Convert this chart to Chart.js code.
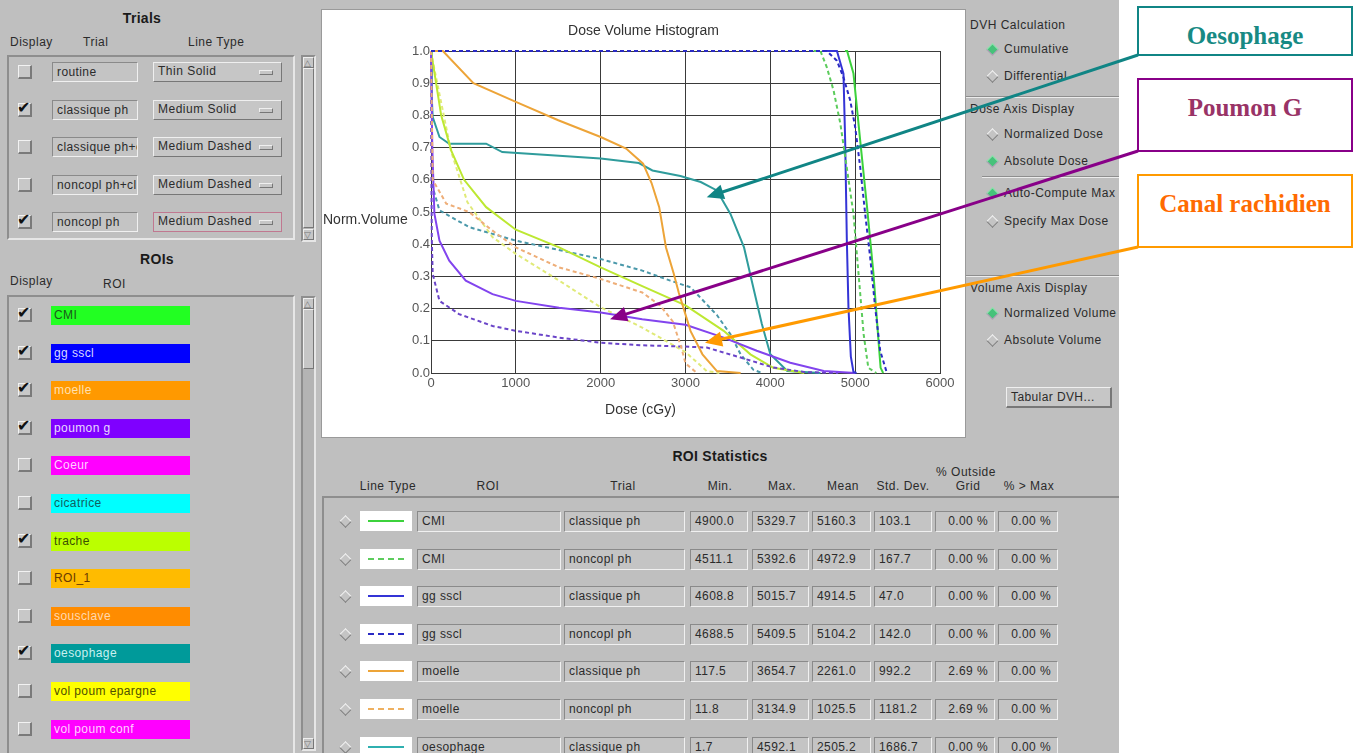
<!DOCTYPE html>
<html>
<head>
<meta charset="utf-8">
<title>Dose Volume Histogram</title>
<script src="https://cdn.jsdelivr.net/npm/chart.js@4.4.1/dist/chart.umd.min.js"></script>
<style>
  body { margin: 0; width: 1353px; height: 753px; overflow: hidden; background: #fff; font-family: "Liberation Sans", Arial, sans-serif; }
  #gui { position: absolute; left: 0; top: 0; width: 1119px; height: 753px; background: #bfbfbf; overflow: hidden; }
  .txt { position: absolute; font-size: 12px; letter-spacing: 0.5px; color: #2b2b2b; white-space: nowrap; line-height: 14px; }
  .bold { font-weight: bold; font-size: 14px; letter-spacing: 0.3px; color: #1a1a1a; }
  .sunken { position: absolute; box-sizing: border-box; border-top: 2px solid #8e8e8e; border-left: 2px solid #8e8e8e; border-right: 2px solid #e6e6e6; border-bottom: 2px solid #e6e6e6; }
  .raised { position: absolute; box-sizing: border-box; border-top: 1px solid #efefef; border-left: 1px solid #efefef; border-right: 1px solid #777; border-bottom: 1px solid #777; background: #c6c6c6; }
  .fld { position: absolute; box-sizing: border-box; border-top: 1px solid #8a8a8a; border-left: 1px solid #8a8a8a; border-right: 1px solid #f0f0f0; border-bottom: 1px solid #f0f0f0; background: #c4c4c4; font-size: 12px; letter-spacing: 0.4px; color: #2b2b2b; padding-left: 4px; line-height: 18px; overflow: hidden; white-space: nowrap; }
  .fld.right { text-align: right; padding-right: 6px; padding-left: 0; }
  .check { position: absolute; width: 14px; height: 14px; box-sizing: border-box; border-top: 1px solid #f2f2f2; border-left: 1px solid #f2f2f2; border-right: 2px solid #7a7a7a; border-bottom: 2px solid #7a7a7a; background: #c8c8c8; }
  .tick { position: absolute; left: -2px; top: -6px; font: bold 16px "DejaVu Sans", sans-serif; color: #111; }
  .diamond { position: absolute; width: 9px; height: 9px; transform: rotate(45deg); box-sizing: border-box; }
  .diamond.on { background: #46c27a; border-top: 1px solid #9ee8b8; border-left: 1px solid #9ee8b8; border-right: 1px solid #c79bc4; border-bottom: 1px solid #c79bc4; }
  .diamond.off { background: #c4c4c4; border-top: 1px solid #f4f4f4; border-left: 1px solid #f4f4f4; border-right: 1px solid #7c7c7c; border-bottom: 1px solid #7c7c7c; }
  .groove { position: absolute; height: 0; border-top: 1px solid #8e8e8e; border-bottom: 1px solid #ececec; }
  #dvhChart { position: absolute; left: 322px; top: 10px; background: #fff; box-shadow: 0 0 0 1px #9a9a9a; }
  .callout { position: absolute; box-sizing: border-box; background: #fff; border: 2px solid; text-align: center; font: bold 25px "Liberation Serif", "DejaVu Serif", serif; }
  #notes { position: absolute; left: 0; top: 0; }
</style>
</head>
<body>
<div id="gui"></div>
<canvas id="dvhChart" width="643" height="427"></canvas>
<div class="callout" style="left:1137px; top:6px; width:216px; height:50px; border-color:#108585; color:#178a84; line-height:56px;">Oesophage</div>
<div class="callout" style="left:1137px; top:78px; width:216px; height:74px; border-color:#880088; color:#993366; line-height:56px;">Poumon G</div>
<div class="callout" style="left:1137px; top:174px; width:216px; height:74px; border-color:#ff9a00; color:#ff6a00; line-height:56px;">Canal rachidien</div>
<svg id="notes" width="1353" height="753"></svg>
<script>
/* Chart data */
const doseTicks = [0, 1000, 2000, 3000, 4000, 5000, 6000];
const volumeTicks = [0, 0.1, 0.2, 0.3, 0.4, 0.5, 0.6, 0.7, 0.8, 0.9, 1.0];

// [dose (cGy), normalized volume]
const cmiClassique = [[4880, 1], [4905, 1], [4980, 0.93], [5060, 0.72], [5140, 0.515], [5215, 0.31], [5275, 0.1], [5300, 0.016], [5330, 0]];
const cmiNoncopl = [[4510, 1], [4590, 1], [4665, 0.95], [4745, 0.878], [4825, 0.775], [4900, 0.64], [4980, 0.494], [5040, 0.307], [5100, 0.12], [5155, 0.016], [5250, 0]];
const ggClassique = [[4610, 1], [4785, 1], [4862, 0.93], [4882, 0.723], [4902, 0.411], [4921, 0.203], [4949, 0.051], [4980, 0.003], [5016, 0]];
const ggNoncopl = [[0, 1], [4665, 1], [4784, 0.97], [4862, 0.918], [4941, 0.847], [5000, 0.764], [5059, 0.64], [5118, 0.494], [5177, 0.359], [5236, 0.203], [5295, 0.069], [5374, 0]];
const moelleClassique = [[0, 1], [140, 1], [500, 0.9], [1000, 0.842], [1500, 0.785], [2000, 0.733], [2300, 0.697], [2500, 0.65], [2600, 0.59], [2690, 0.515], [2770, 0.39], [2860, 0.31], [2920, 0.25], [3060, 0.13], [3200, 0.058], [3370, 0.006], [3650, 0]];
const moelleNoncopl = [[0, 1], [10, 0.8], [20, 0.6], [180, 0.526], [450, 0.5], [725, 0.442], [1000, 0.39], [1510, 0.328], [2000, 0.292], [2490, 0.25], [2700, 0.21], [2850, 0.16], [2950, 0.08], [3000, 0.03], [3135, 0]];
const poumonClassique = [[0, 1], [15, 0.7], [40, 0.495], [100, 0.411], [215, 0.349], [410, 0.287], [725, 0.245], [1000, 0.224], [1510, 0.203], [2000, 0.188], [2490, 0.167], [3000, 0.15], [3450, 0.11], [3840, 0.069], [4235, 0.032], [4630, 0.006], [5000, 0]];
const poumonNoncopl = [[0, 1], [5, 0.6], [10, 0.41], [20, 0.308], [100, 0.224], [330, 0.183], [725, 0.146], [1000, 0.131], [1510, 0.11], [2000, 0.094], [2490, 0.086], [3000, 0.082], [3250, 0.079], [3650, 0.048], [4035, 0.017], [4400, 0.003], [4800, 0]];
const tracheClassique = [[0, 1], [30, 0.95], [120, 0.8], [240, 0.69], [390, 0.6], [650, 0.515], [1000, 0.445], [1510, 0.39], [2000, 0.328], [2490, 0.27], [3000, 0.21], [3450, 0.131], [3765, 0.058], [4035, 0.016], [4400, 0]];
const tracheNoncopl = [[0, 1], [20, 0.97], [235, 0.69], [430, 0.53], [725, 0.422], [1000, 0.37], [1510, 0.287], [2000, 0.204], [2490, 0.141], [3000, 0.065], [3250, 0.006], [3400, 0]];
const oesophageClassique = [[0, 1], [10, 0.85], [20, 0.795], [100, 0.733], [215, 0.712], [650, 0.712], [840, 0.686], [2000, 0.666], [2450, 0.652], [2610, 0.629], [2940, 0.612], [3180, 0.593], [3370, 0.567], [3530, 0.494], [3690, 0.39], [3780, 0.287], [3900, 0.152], [4000, 0.058], [4200, 0.006], [4590, 0]];
const oesophageNoncopl = [[0, 1], [10, 0.7], [20, 0.577], [100, 0.505], [450, 0.453], [1000, 0.411], [2000, 0.354], [2490, 0.318], [2820, 0.287], [3060, 0.266], [3370, 0.18], [3530, 0.12], [3650, 0.058], [3800, 0.01], [3900, 0]];

const arrowLabels = ["Oesophage", "Poumon G", "Canal rachidien"];
const arrowTipDose = [3250, 2110, 3230];
const arrowTipVolume = [0.546, 0.167, 0.094];

/* GUI data */
const trialNames = ["routine", "classique ph", "classique ph+cl", "noncopl ph+cl", "noncopl ph"];
const trialLineTypes = ["Thin Solid", "Medium Solid", "Medium Dashed", "Medium Dashed", "Medium Dashed"];
const trialShown = [false, true, false, false, true];

const roiNames = ["CMI", "gg sscl", "moelle", "poumon g", "Coeur", "cicatrice", "trache", "ROI_1", "sousclave", "oesophage", "vol poum epargne", "vol poum conf"];
const roiColors = ["#22ff22", "#0000ff", "#ff9900", "#7f00ff", "#ff00ff", "#00ffff", "#bbff00", "#ffbb00", "#ff8c00", "#009a9a", "#ffff00", "#ff00ff"];
const roiTextColors = ["#1a5a1a", "#d8d8ff", "#ffe0b0", "#e8d8ff", "#ffd0ff", "#106060", "#3a5000", "#6a3a00", "#ffd8b0", "#c8f0f0", "#505000", "#ffd0ff"];
const roiShown = [true, true, true, true, false, false, true, false, false, true, false, false];

const statRoi = ["CMI", "CMI", "gg sscl", "gg sscl", "moelle", "moelle", "oesophage"];
const statTrial = ["classique ph", "noncopl ph", "classique ph", "noncopl ph", "classique ph", "noncopl ph", "classique ph"];
const statMin = ["4900.0", "4511.1", "4608.8", "4688.5", "117.5", "11.8", "1.7"];
const statMax = ["5329.7", "5392.6", "5015.7", "5409.5", "3654.7", "3134.9", "4592.1"];
const statMean = ["5160.3", "4972.9", "4914.5", "5104.2", "2261.0", "1025.5", "2505.2"];
const statStd = ["103.1", "167.7", "47.0", "142.0", "992.2", "1181.2", "1686.7"];
const statOutside = ["0.00 %", "0.00 %", "0.00 %", "0.00 %", "2.69 %", "2.69 %", "0.00 %"];
const statOverMax = ["0.00 %", "0.00 %", "0.00 %", "0.00 %", "0.00 %", "0.00 %", "0.00 %"];

/* Line styles */
const seriesList = [
  { data: ggNoncopl, color: "#2a2ac4", dashed: true },
  { data: cmiClassique, color: "#3cd23c", dashed: false },
  { data: cmiNoncopl, color: "#5ccc5c", dashed: true },
  { data: ggClassique, color: "#3434d6", dashed: false },
  { data: moelleClassique, color: "#eda438", dashed: false },
  { data: moelleNoncopl, color: "#eeae78", dashed: true },
  { data: poumonClassique, color: "#8244ee", dashed: false },
  { data: poumonNoncopl, color: "#6a44c8", dashed: true },
  { data: tracheClassique, color: "#bde832", dashed: false },
  { data: tracheNoncopl, color: "#e0ea78", dashed: true },
  { data: oesophageClassique, color: "#2f9c9c", dashed: false },
  { data: oesophageNoncopl, color: "#4a98aa", dashed: true },
];
const statLineColors = ["#3cd23c", "#5ccc5c", "#3434d6", "#2a2ac4", "#eda438", "#eeb060", "#2fb0b0"];
const statLineDashed = [false, true, false, true, false, true, false];

/* GUI helpers */
const gui = document.getElementById("gui");

function el(cls, style, text) {
  const d = document.createElement("div");
  d.className = cls;
  d.style.cssText = style;
  if (text !== undefined) d.textContent = text;
  gui.appendChild(d);
  return d;
}

function label(text, x, y, extra) {
  return el("txt" + (extra || ""), `left:${x}px; top:${y - 7}px;`, text);
}

function centered(text, cx, y, extra) {
  return el("txt" + (extra || ""), `left:${cx}px; top:${y - 8}px; transform:translateX(-50%);`, text);
}

function checkbox(x, y, on) {
  const c = el("check", `left:${x}px; top:${y - 7}px;`);
  if (on) {
    const t = document.createElement("div");
    t.className = "tick";
    t.textContent = "\u2714";
    c.appendChild(t);
  }
}

function diamond(cx, cy, on) {
  el("diamond " + (on ? "on" : "off"), `left:${cx - 4.5}px; top:${cy - 4.5}px;`);
}

function scrollbar(x, y, h, thumbTop, thumbH) {
  el("sunken", `left:${x}px; top:${y}px; width:15px; height:${h}px; background:#b4b4b4;`);
  el("raised", `left:${x + 2}px; top:${y + 2}px; width:11px; height:11px;`, "");
  el("raised", `left:${x + 2}px; top:${y + h - 13}px; width:11px; height:11px;`, "");
  el("txt", `left:${x + 3}px; top:${y + 1}px; font-size:9px; color:#777;`, "\u25B3");
  el("txt", `left:${x + 3}px; top:${y + h - 14}px; font-size:9px; color:#777;`, "\u25BD");
  el("raised", `left:${x + 2}px; top:${y + thumbTop}px; width:11px; height:${thumbH}px;`);
}

/* Left panel: trials */
centered("Trials", 142, 19, " bold");
label("Display", 10, 42);
label("Trial", 83, 42);
label("Line Type", 188, 42);
el("sunken", "left:7px; top:55px; width:288px; height:185px;");
scrollbar(301, 55, 187, 13, 160);
trialNames.forEach((name, i) => {
  const cy = Math.round(72 + i * 37.5);
  checkbox(18, cy, trialShown[i]);
  el("fld", `left:52px; top:${cy - 10}px; width:86px; height:20px;`, name);
  const b = el("raised", `left:153px; top:${cy - 10}px; width:129px; height:20px; font-size:12px; letter-spacing:0.5px; color:#2b2b2b; padding-left:4px; line-height:17px;` +
    (i === trialNames.length - 1 ? " border:1px solid #c07890;" : ""), trialLineTypes[i]);
  const knob = document.createElement("div");
  knob.className = "raised";
  knob.style.cssText = "left:105px; top:7px; width:14px; height:5px;";
  b.appendChild(knob);
});

/* Left panel: ROIs */
centered("ROIs", 157, 260, " bold");
label("Display", 10, 281);
label("ROI", 103, 284);
el("sunken", "left:7px; top:295px; width:288px; height:470px;");
scrollbar(301, 296, 455, 13, 60);
roiNames.forEach((name, i) => {
  const cy = Math.round(315 + i * 37.6);
  checkbox(18, cy, roiShown[i]);
  el("fld", `left:51px; top:${cy - 9}px; width:139px; height:19px; border:none; background:${roiColors[i]}; color:${roiTextColors[i]}; line-height:19px; padding-left:3px;`, name);
});

/* Right panel */
const radioItems = [
  ["Cumulative", 49, true], ["Differential", 76, false],
  ["Normalized Dose", 134, false], ["Absolute Dose", 161, true],
  ["Auto-Compute Max", 193, true], ["Specify Max Dose", 221, false],
  ["Normalized Volume", 313, true], ["Absolute Volume", 340, false],
];
label("DVH Calculation", 970, 25);
el("groove", "left:965px; top:96px; width:154px;");
label("Dose Axis Display", 970, 109);
el("groove", "left:982px; top:176px; width:137px;");
el("groove", "left:965px; top:275px; width:154px;");
label("Volume Axis Display", 970, 288);
radioItems.forEach(([text, y, on]) => {
  diamond(992, y, on);
  label(text, 1004, y);
});
el("raised", "left:1006px; top:387px; width:106px; height:21px; font-size:12px; letter-spacing:0.4px; color:#2b2b2b; line-height:19px; padding-left:4px; border-right:2px solid #777; border-bottom:2px solid #777;", "Tabular DVH...");

/* Bottom panel: ROI statistics */
centered("ROI Statistics", 720, 457, " bold");
const statHeaders = [["Line Type", 388, 487], ["ROI", 488, 487], ["Trial", 623, 487], ["Min.", 720, 487], ["Max.", 782, 487],
  ["Mean", 843, 487], ["Std. Dev.", 903, 487], ["% Outside", 966, 473], ["Grid", 968, 487], ["% > Max", 1029, 487]];
statHeaders.forEach(([t, x, y]) => centered(t, x, y, ""));
el("sunken", "left:322px; top:496px; width:800px; height:270px; border-right:none; border-bottom:none;");
const statCols = [[417, 144], [564, 121], [690, 58], [752, 57], [812, 59], [874, 58], [935, 60], [998, 60]];
statRoi.forEach((roi, i) => {
  const cy = Math.round(521 + i * 37.6);
  const vals = [roi, statTrial[i], statMin[i], statMax[i], statMean[i], statStd[i], statOutside[i], statOverMax[i]];
  diamond(345, cy, false);
  const sample = el("abs", `position:absolute; left:360px; top:${cy - 10}px; width:52px; height:20px; background:#fff;`);
  const line = document.createElement("div");
  line.style.cssText = `position:absolute; left:8px; top:9px; width:36px; height:0; border-top:2px ${statLineDashed[i] ? "dashed" : "solid"} ${statLineColors[i]};`;
  sample.appendChild(line);
  vals.forEach((v, k) => {
    el("fld" + (k >= 6 ? " right" : ""), `left:${statCols[k][0]}px; top:${cy - 10}px; width:${statCols[k][1]}px; height:21px;`, v);
  });
});

/* Chart */
const panelText = {
  id: "panelText",
  afterDraw(chart) {
    const ctx = chart.ctx;
    ctx.save();
    ctx.font = '14px "Liberation Sans", Arial, sans-serif';
    ctx.fillStyle = "#333";
    ctx.textBaseline = "middle";
    ctx.textAlign = "center";
    ctx.fillText("Dose Volume Histogram", chart.width / 2, 21);
    ctx.fillText("Dose (cGy)", chart.width / 2 - 3, 400);
    ctx.textAlign = "left";
    ctx.fillText("Norm.Volume", 1, 210);
    ctx.restore();
  },
};

const tickFont = { family: '"Liberation Sans", Arial, sans-serif', size: 13 };
const gridColor = "#3a3a3a";

const chart = new Chart(document.getElementById("dvhChart"), {
  type: "line",
  data: {
    datasets: seriesList.map((s) => ({
      data: s.data.map(([x, y]) => ({ x, y })),
      borderColor: s.color,
      borderWidth: 2,
      borderDash: s.dashed ? [4, 3] : [],
      pointRadius: 0,
      fill: false,
      tension: 0,
      clip: 3,
    })),
  },
  options: {
    responsive: false,
    animation: false,
    devicePixelRatio: 1,
    layout: { padding: { left: 0, top: 41, right: 25, bottom: 0 } },
    plugins: { legend: { display: false }, title: { display: false }, tooltip: { enabled: false } },
    scales: {
      x: {
        type: "linear",
        min: 0,
        max: 6000,
        afterBuildTicks: (scale) => { scale.ticks = doseTicks.map((v) => ({ value: v })); },
        afterFit: (scale) => { scale.height = 64; },
        grid: { color: gridColor, lineWidth: 1, drawTicks: false },
        border: { color: gridColor, width: 1 },
        ticks: { font: tickFont, color: "#555", padding: 3, maxRotation: 0, callback: (v) => String(v) },
      },
      y: {
        type: "linear",
        min: 0,
        max: 1,
        afterBuildTicks: (scale) => { scale.ticks = volumeTicks.map((v) => ({ value: v })); },
        afterFit: (scale) => { scale.width = 109; },
        grid: { color: gridColor, lineWidth: 1, drawTicks: false },
        border: { color: gridColor, width: 1 },
        ticks: { font: tickFont, color: "#555", padding: 1, callback: (v) => Number(v).toFixed(1) },
      },
    },
  },
  plugins: [panelText],
});

/* Callout arrows, tips placed through the chart scales */
const notes = document.getElementById("notes");
const arrowStarts = [[1138, 55], [1138, 151], [1138, 247]];
const arrowColors = ["#108585", "#880088", "#ff9a00"];
const canvasLeft = 322, canvasTop = 10;

arrowLabels.forEach((name, i) => {
  const tx = canvasLeft + chart.scales.x.getPixelForValue(arrowTipDose[i]);
  const ty = canvasTop + chart.scales.y.getPixelForValue(arrowTipVolume[i]);
  const [sx, sy] = arrowStarts[i];
  const len = Math.hypot(tx - sx, ty - sy);
  const ux = (tx - sx) / len, uy = (ty - sy) / len;
  const bx = tx - ux * 17, by = ty - uy * 17;
  const px = -uy * 7.5, py = ux * 7.5;
  const ns = "http://www.w3.org/2000/svg";
  const line = document.createElementNS(ns, "line");
  line.setAttribute("x1", sx); line.setAttribute("y1", sy);
  line.setAttribute("x2", bx + ux * 2); line.setAttribute("y2", by + uy * 2);
  line.setAttribute("stroke", arrowColors[i]);
  line.setAttribute("stroke-width", 3);
  notes.appendChild(line);
  const head = document.createElementNS(ns, "polygon");
  head.setAttribute("points", `${tx},${ty} ${bx + px},${by + py} ${bx - px},${by - py}`);
  head.setAttribute("fill", arrowColors[i]);
  notes.appendChild(head);
});
</script>
</body>
</html>
